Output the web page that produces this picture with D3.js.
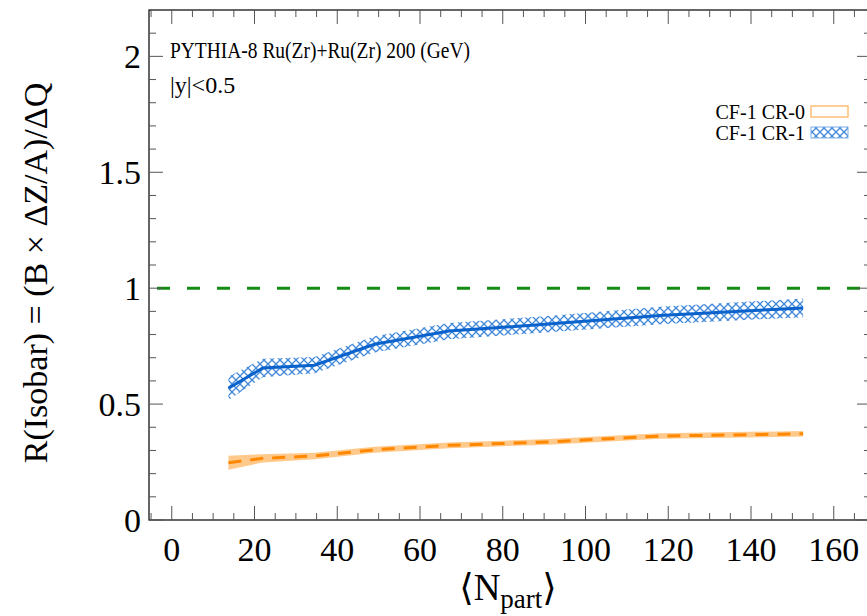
<!DOCTYPE html>
<html>
<head>
<meta charset="utf-8">
<script src="https://cdn.jsdelivr.net/npm/d3@7"></script>
<style>
  body { margin: 0; background: #fff; }
  svg { display: block; font-family: "Liberation Serif", "DejaVu Serif", serif; }
</style>
</head>
<body>
<svg></svg>
<script>
// data
const npart = [13.7, 22, 34.5, 49, 67, 91, 118, 152.6];
const cr0Val = [0.247, 0.266, 0.276, 0.303, 0.322, 0.337, 0.362, 0.372];
const cr0Err = [0.03, 0.018, 0.014, 0.013, 0.012, 0.012, 0.012, 0.012];
const cr1Val = [0.568, 0.656, 0.668, 0.758, 0.815, 0.845, 0.882, 0.915];
const cr1Err = [0.05, 0.04, 0.035, 0.035, 0.035, 0.035, 0.038, 0.04];
const xTicks = [0, 20, 40, 60, 80, 100, 120, 140, 160];
const yTicks = [0, 0.5, 1, 1.5, 2];
const legendLabels = ["CF-1 CR-0", "CF-1 CR-1"];

const width = 867, height = 616;
const svg = d3.select("svg").attr("width", width).attr("height", height);

const pLeft = 149, pRight = 871, pTop = 10, pBottom = 520;
const x = d3.scaleLinear().domain([-5.5, 169]).range([pLeft, pRight]);
const y = d3.scaleLinear().domain([0, 2.2]).range([pBottom, pTop]);

// hatch pattern for CR-1 band
const defs = svg.append("defs");
const pat = defs.append("pattern")
    .attr("id", "hatch")
    .attr("patternUnits", "userSpaceOnUse")
    .attr("width", 8).attr("height", 8);
pat.append("path").attr("d", "M0,0 L8,8 M8,0 L0,8")
    .attr("stroke", "#3f88d8").attr("stroke-width", 1.3).attr("fill", "none");

const clip = defs.append("clipPath").attr("id", "plotclip");
clip.append("rect").attr("x", pLeft).attr("y", pTop).attr("width", pRight - pLeft).attr("height", pBottom - pTop);

const plot = svg.append("g").attr("clip-path", "url(#plotclip)");

const rows0 = npart.map((n, i) => ({ n, v: cr0Val[i], e: cr0Err[i] }));
const rows1 = npart.map((n, i) => ({ n, v: cr1Val[i], e: cr1Err[i] }));

const band = d3.area().x(d => x(d.n)).y0(d => y(d.v - d.e)).y1(d => y(d.v + d.e));
const line = d3.line().x(d => x(d.n)).y(d => y(d.v));

// reference line at 1
plot.append("line")
    .attr("x1", pLeft).attr("x2", pRight)
    .attr("y1", y(1)).attr("y2", y(1))
    .attr("stroke", "#148c14").attr("stroke-width", 3)
    .attr("stroke-dasharray", "13,17")
    .attr("stroke-dashoffset", -8);

// CR-0
plot.append("path").datum(rows0).attr("d", band)
    .attr("fill", "#ffbf77").attr("opacity", 0.85);
plot.append("path").datum(rows0).attr("d", line)
    .attr("fill", "none").attr("stroke", "#ff8800").attr("stroke-width", 3)
    .attr("stroke-dasharray", "13,9");

// CR-1
plot.append("path").datum(rows1).attr("d", band)
    .attr("fill", "url(#hatch)");
plot.append("path").datum(rows1).attr("d", line)
    .attr("fill", "none").attr("stroke", "#0a62cc").attr("stroke-width", 3);

// frame
svg.append("rect")
    .attr("x", pLeft).attr("y", pTop).attr("width", pRight - pLeft).attr("height", pBottom - pTop)
    .attr("fill", "none").attr("stroke", "#000").attr("stroke-width", 1.2);

// ticks
const tickG = svg.append("g").attr("stroke", "#555").attr("stroke-width", 1);
d3.range(-5, 170, 5).forEach(v => {
    const major = v % 20 === 0;
    const len = major ? 14 : 7;
    tickG.append("line").attr("x1", x(v)).attr("x2", x(v)).attr("y1", pBottom).attr("y2", pBottom - len);
    tickG.append("line").attr("x1", x(v)).attr("x2", x(v)).attr("y1", pTop).attr("y2", pTop + len);
});
d3.range(0, 22).map(i => i / 10).forEach(v => {
    const major = Math.abs(v * 2 - Math.round(v * 2)) < 1e-9;
    const len = major ? 14 : 7;
    tickG.append("line").attr("x1", pLeft).attr("x2", pLeft + len).attr("y1", y(v)).attr("y2", y(v));
    tickG.append("line").attr("x1", pRight).attr("x2", pRight - len).attr("y1", y(v)).attr("y2", y(v));
});

// tick labels
svg.append("g").selectAll("text").data(xTicks).join("text")
    .attr("x", d => x(d)).attr("y", 561)
    .attr("text-anchor", "middle").attr("font-size", 34)
    .text(d => d);
svg.append("g").selectAll("text").data(yTicks).join("text")
    .attr("x", 141).attr("y", d => y(d) + 12)
    .attr("text-anchor", "end").attr("font-size", 34)
    .text(d => d);

// axis titles
svg.append("text")
    .attr("transform", "translate(47, 273) rotate(-90)")
    .attr("text-anchor", "middle").attr("font-size", 34)
    .text("R(Isobar) = (B × ΔZ/A)/ΔQ");

const xl = svg.append("text")
    .attr("x", 508).attr("y", 600)
    .attr("text-anchor", "middle").attr("font-size", 37);
xl.append("tspan").text("⟨N");
xl.append("tspan").attr("font-size", 27).attr("dy", 8).text("part");
xl.append("tspan").attr("dy", -8).text("⟩");

// annotations
svg.append("text").attr("x", 170).attr("y", 58).attr("font-size", 23)
    .attr("textLength", 300).attr("lengthAdjust", "spacingAndGlyphs")
    .text("PYTHIA-8 Ru(Zr)+Ru(Zr) 200 (GeV)");
svg.append("text").attr("x", 170).attr("y", 93).attr("font-size", 24)
    .text("|y|<0.5");

// legend
const leg = svg.append("g");
legendLabels.forEach((lab, i) => {
    leg.append("text").attr("x", 805).attr("y", 119 + i * 21)
        .attr("text-anchor", "end").attr("font-size", 20).text(lab);
});
leg.append("rect").attr("x", 811).attr("y", 106).attr("width", 37).attr("height", 11)
    .attr("fill", "none").attr("stroke", "#ffbf77").attr("stroke-width", 1.5);
leg.append("rect").attr("x", 811).attr("y", 127).attr("width", 37).attr("height", 11)
    .attr("fill", "url(#hatch)").attr("stroke", "#7aaee6").attr("stroke-width", 1);
</script>
</body>
</html>
